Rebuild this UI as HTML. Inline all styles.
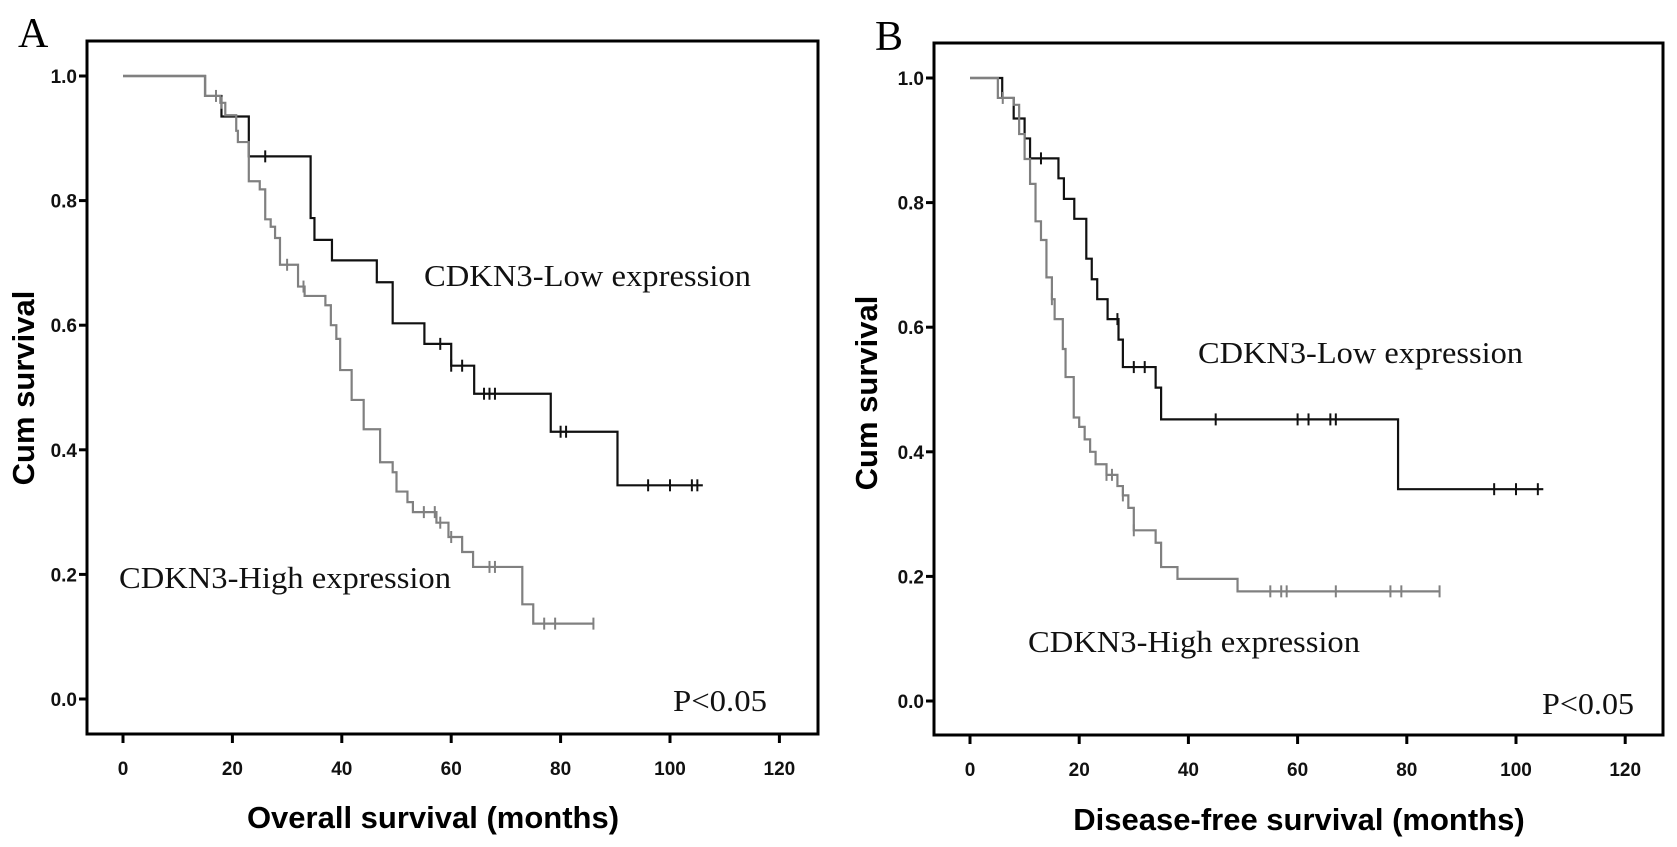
<!DOCTYPE html>
<html><head><meta charset="utf-8"><style>
html,body{margin:0;padding:0;background:#fff;}
svg{display:block;}
.tick{font-family:"Liberation Sans",sans-serif;font-weight:bold;font-size:19px;fill:#111;}
.atitle{font-family:"Liberation Sans",sans-serif;font-weight:bold;font-size:31px;fill:#000;}
.ann{font-family:"Liberation Serif",serif;font-size:31px;fill:#111;}
.plab{font-family:"Liberation Serif",serif;font-size:42px;fill:#000;}
</style></head><body>
<svg id="fig" width="1677" height="847" viewBox="0 0 1677 847" xmlns="http://www.w3.org/2000/svg"></svg>
<script>
const xTicks=[0,20,40,60,80,100,120];
const yTicks=[0,0.2,0.4,0.6,0.8,1.0];
const yTickLabels=["0.0","0.2","0.4","0.6","0.8","1.0"];
// Panel A - overall survival
const aLowTimes=[15,18,23,34.3,35,38.2,46.4,49.3,55.1,60,64.2,78.2,90.4];
const aLowSurv=[0.968,0.935,0.871,0.772,0.737,0.704,0.669,0.603,0.57,0.535,0.49,0.429,0.343];
const aLowCens=[26,58,60,62,66,67,68,80,81,96,100,104,105];
const aLowEnd=106;
const aHighTimes=[15,17.8,18.7,20.7,21,23,25,26,27,27.8,28.7,32,33.2,37,38,39,39.7,41.8,44,47,49.3,50,52,53,57.3,59.5,62,64,73,75];
const aHighSurv=[0.968,0.957,0.937,0.912,0.894,0.831,0.818,0.77,0.758,0.74,0.697,0.662,0.647,0.632,0.6,0.578,0.528,0.48,0.433,0.38,0.364,0.333,0.316,0.3,0.283,0.26,0.236,0.212,0.152,0.121];
const aHighCens=[17,18,30,33,55,57,58,60,67,68,77,79,86];
const aHighEnd=86;
// Panel B - disease-free survival
const bLowTimes=[5.9,8,10,11,16.2,17.2,19.1,21.3,22.3,23.3,25.2,27.2,28,34,35,78.4];
const bLowSurv=[0.968,0.935,0.903,0.871,0.839,0.806,0.774,0.71,0.677,0.645,0.613,0.58,0.536,0.503,0.452,0.34];
const bLowCens=[13,27,30,32,45,60,62,66,67,96,100,104];
const bLowEnd=105;
const bHighTimes=[5.1,8,9,10,11,12,13,14,15,15.5,17,17.5,19,20,21,22,23,25,27,28,29,30,34,35,38,49];
const bHighSurv=[0.968,0.957,0.91,0.87,0.83,0.77,0.74,0.68,0.645,0.613,0.565,0.52,0.455,0.44,0.42,0.4,0.38,0.363,0.345,0.33,0.31,0.274,0.254,0.215,0.196,0.176];
const bHighCens=[6,15,25,26,28,30,55,57,58,67,77,79,86];
const bHighEnd=86;

const NS="http://www.w3.org/2000/svg";
const svg=document.getElementById('fig');
function mk(tag,attrs,parent){const e=document.createElementNS(NS,tag);for(const k in attrs)e.setAttribute(k,attrs[k]);(parent||svg).appendChild(e);return e;}

function stepAt(times,surv,t){let s=1;for(let i=0;i<times.length;i++){if(times[i]<=t)s=surv[i];}return s;}

function panel(cfg){
  const g=mk('g',{});
  
  
  const X=t=>cfg.x0+t*cfg.kx;
  const Y=v=>cfg.y0-v*cfg.ky;
  const fr=mk('rect',{x:cfg.fx1,y:cfg.fy1,width:cfg.fx2-cfg.fx1,height:cfg.fy2-cfg.fy1,fill:'none',stroke:'#000','stroke-width':3},g);
  
  
  xTicks.forEach(t=>{
    const l=mk('line',{x1:X(t),x2:X(t),y1:cfg.fy2,y2:cfg.fy2+9,stroke:'#000','stroke-width':3},g);
    
    
    const tx=mk('text',{x:X(t),y:cfg.fy2+41,'text-anchor':'middle',class:'tick'},g);tx.textContent=t;
    
    
  });
  yTicks.forEach((v,i)=>{
    const l=mk('line',{x1:cfg.fx1-8,x2:cfg.fx1,y1:Y(v),y2:Y(v),stroke:'#000','stroke-width':3},g);
    
    
    const tx=mk('text',{x:cfg.fx1-10,y:Y(v)+7,'text-anchor':'end',class:'tick'},g);tx.textContent=yTickLabels[i];
    
    
  });
  cfg.series.forEach(s=>{
    let d=`M${X(0)},${Y(1)}`;
    s.times.forEach((t,i)=>{d+=` H${X(t)} V${Y(s.surv[i])}`;});
    d+=` H${X(s.end)}`;
    const p=mk('path',{d:d,fill:'none',stroke:s.color,'stroke-width':2.2},g);
    
    
    s.cens.forEach(c=>{
      const v=stepAt(s.times,s.surv,c);
      const m=mk('line',{x1:X(c),x2:X(c),y1:Y(v)-6,y2:Y(v)+6,stroke:s.color,'stroke-width':2},g);
      
      
    });
  });
  const yt=mk('text',{x:0,y:0,'text-anchor':'middle',class:'atitle',transform:`translate(${cfg.ytx},${cfg.yty}) rotate(-90)`},g);
  yt.textContent='Cum survival';
  
  
  const xt=mk('text',{x:cfg.xtx,y:cfg.xty,'text-anchor':'middle',class:'atitle'},g);
  xt.textContent=cfg.xtitle;
  
  
  const pl=mk('text',{x:cfg.plx,y:cfg.ply,class:'plab'},g);pl.textContent=cfg.letter;
  
  
  cfg.anns.forEach(a=>{
    const t=mk('text',{x:a.x,y:a.y,class:'ann',textLength:a.w,lengthAdjust:'spacingAndGlyphs'},g);t.textContent=a.txt;
    
    
  });
}

panel({name:'panel-a-overall-survival',letter:'A',plx:18,ply:47,x0:123,kx:5.47,y0:699,ky:623,fx1:87,fy1:41,fx2:818,fy2:734,
  ytx:34,yty:388,xtx:433,xty:828,xtitle:'Overall survival (months)',
  series:[{name:'cdkn3-low',color:'#111',times:aLowTimes,surv:aLowSurv,cens:aLowCens,end:aLowEnd},
          {name:'cdkn3-high',color:'#808080',times:aHighTimes,surv:aHighSurv,cens:aHighCens,end:aHighEnd}],
  anns:[{txt:'CDKN3-Low expression',x:424,y:286,w:327,name:'low-expression-label'},
        {txt:'CDKN3-High expression',x:119,y:588,w:332,name:'high-expression-label'},
        {txt:'P<0.05',x:673,y:711,w:94,name:'p-value-label'}]});
panel({name:'panel-b-disease-free-survival',letter:'B',plx:875,ply:50,x0:970,kx:5.46,y0:701,ky:623,fx1:934,fy1:43,fx2:1663,fy2:735,
  ytx:877,yty:393,xtx:1299,xty:830,xtitle:'Disease-free survival (months)',
  series:[{name:'cdkn3-low',color:'#111',times:bLowTimes,surv:bLowSurv,cens:bLowCens,end:bLowEnd},
          {name:'cdkn3-high',color:'#808080',times:bHighTimes,surv:bHighSurv,cens:bHighCens,end:bHighEnd}],
  anns:[{txt:'CDKN3-Low expression',x:1198,y:363,w:325,name:'low-expression-label'},
        {txt:'CDKN3-High expression',x:1028,y:652,w:332,name:'high-expression-label'},
        {txt:'P<0.05',x:1542,y:714,w:92,name:'p-value-label'}]});
</script>
</body></html>
